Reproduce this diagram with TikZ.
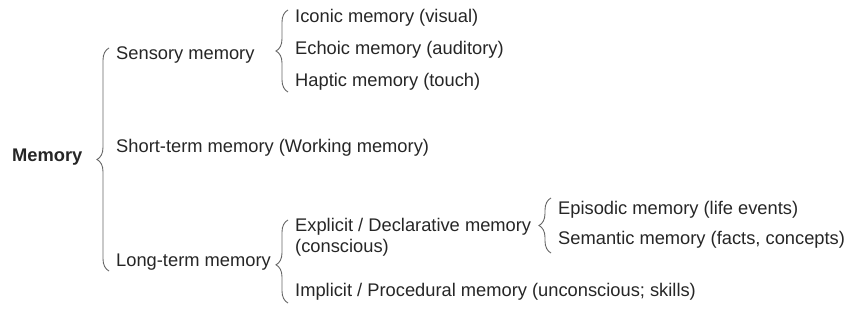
\documentclass[tikz,border=0pt]{standalone}
\usepackage{fontspec}
\setmainfont{Liberation Sans}
\usetikzlibrary{decorations.pathreplacing,calc}

\begin{document}
\begin{tikzpicture}[
  x=1pt, y=-1pt,
  font=\fontsize{18.3}{21}\selectfont,
  item/.style={anchor=base west, inner sep=0pt, align=left, text=black!85},
  root/.style={item, font=\fontsize{18.3}{21}\selectfont\bfseries},
  brc/.style={draw=black!60, line width=0.9pt, decorate,
              decoration={brace, amplitude=12pt, #1}},
  brc/.default={aspect=0.5},
]
\useasboundingbox (0,0) rectangle (853,328);

% ---- root and first level ----------------------------------------------
\node[root] (mem) at (12,162) {Memory};
\node[item] (sens)  at (116,60)  {Sensory memory};
\node[item] (short) at (116,153) {Short-term memory (Working memory)};
\node[item] (long)  at (116,267) {Long-term memory};

% ---- sensory branch ----------------------------------------------------
\node[item] (iconic) at (295,23) {Iconic memory (visual)};
\node[item] (echoic) at (295,55) {Echoic memory (auditory)};
\node[item] (haptic) at (295,87) {Haptic memory (touch)};

% ---- long-term branch (base of expl is its last line) ------------------
\node[item] (expl) at (295,253) {Explicit / Declarative memory\\(conscious)};
\node[item] (impl) at (295,297) {Implicit / Procedural memory (unconscious; skills)};
\node[item] (epis) at (558,215) {Episodic memory (life events)};
\node[item] (sema) at (558,245) {Semantic memory (facts, concepts)};

% ---- braces (drawn bottom to top, tip points left) ---------------------
\draw[brc] ($(long.base west)+(-7,4)$)    -- ($(sens.base west)+(-7,-12)$);
\draw[brc] ($(haptic.base west)+(-7,5)$)  -- ($(iconic.base west)+(-7,-13)$);
\draw[brc={aspect=0.46}]
           ($(impl.base west)+(-7,6)$)    -- ($(expl.base west)+(-7,-33)$);
\draw[brc] ($(sema.base west)+(-7,8)$)    -- ($(epis.base west)+(-7,-17)$);

\end{tikzpicture}
\end{document}
